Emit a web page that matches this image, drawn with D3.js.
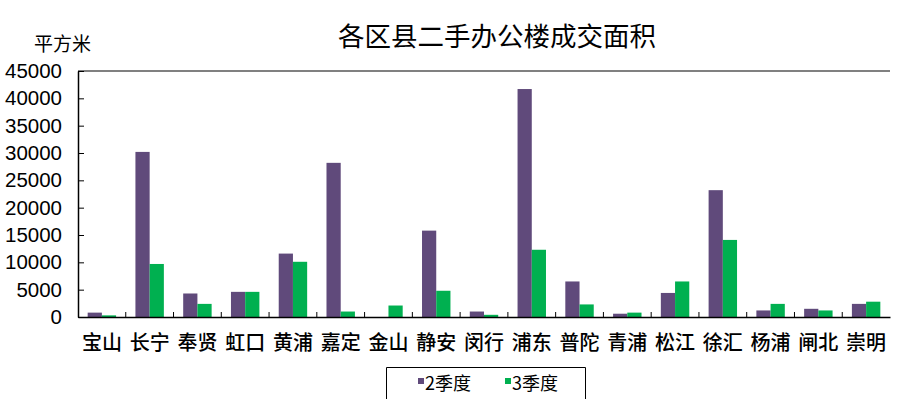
<!DOCTYPE html>
<html>
<head>
<meta charset="utf-8">
<script src="https://cdn.jsdelivr.net/npm/d3@7"></script>
<style>
  body { margin: 0; background: #fff; }
  text { font-family: "Liberation Sans", Arial, "Noto Sans CJK SC", sans-serif; }
  .cjk { font-family: "Noto Sans CJK SC", sans-serif; }
</style>
</head>
<body>
<div id="chart"></div>
<script>
// data
var districts = ["宝山","长宁","奉贤","虹口","黄浦","嘉定","金山","静安","闵行","浦东","普陀","青浦","松江","徐汇","杨浦","闸北","崇明"];
var seriesNames = ["2季度","3季度"];
var q2 = [800, 30200, 4300, 4600, 11600, 28200, 0, 15800, 1000, 41700, 6500, 600, 4400, 23200, 1200, 1500, 2400];
var q3 = [300, 9700, 2400, 4600, 10100, 1000, 2100, 4800, 400, 12300, 2300, 800, 6500, 14100, 2400, 1200, 2800];
var yTicks = [0, 5000, 10000, 15000, 20000, 25000, 30000, 35000, 40000, 45000];

var W = 899, H = 399;
var margin = {top: 71, right: 9, bottom: 82, left: 78},
    width = W - margin.left - margin.right,
    height = H - margin.top - margin.bottom;

var svg = d3.select("#chart")
  .append("svg")
    .attr("width", W)
    .attr("height", H);

var g = svg.append("g")
    .attr("transform", "translate(" + margin.left + "," + margin.top + ")");

var color = d3.scaleOrdinal().domain(seriesNames).range(["#604A7B", "#00B050"]);

var x = d3.scaleBand().domain(districts).range([0, width]).padding(0);
var xSub = d3.scaleBand().domain(seriesNames).range([0, x.bandwidth()])
    .paddingInner(0).paddingOuter(0.68);
var y = d3.scaleLinear().domain([0, 45000]).range([height, 0]);

// top border of plot area
g.append("line")
  .attr("x1", 0).attr("x2", width)
  .attr("y1", 0).attr("y2", 0)
  .attr("stroke", "#808080").attr("stroke-width", 2);

// bars
var rows = districts.map(function(d, i) { return {name: d, values: [q2[i], q3[i]]}; });
g.append("g")
  .selectAll("g")
  .data(rows)
  .enter().append("g")
    .attr("transform", function(d) { return "translate(" + x(d.name) + ",0)"; })
  .selectAll("rect")
  .data(function(d) { return seriesNames.map(function(k, j) { return {key: k, value: d.values[j]}; }); })
  .enter().append("rect")
    .attr("x", function(d) { return xSub(d.key); })
    .attr("y", function(d) { return y(d.value); })
    .attr("width", xSub.bandwidth())
    .attr("height", function(d) { return height - y(d.value); })
    .attr("fill", function(d) { return color(d.key); });

// y axis
var yAxis = g.append("g")
  .call(d3.axisLeft(y).tickValues(yTicks).tickSizeInner(-6).tickSizeOuter(0).tickPadding(16).tickFormat(d3.format("d")));
yAxis.select(".domain").attr("stroke", "#000").attr("stroke-width", 1.5);
yAxis.selectAll(".tick line").attr("stroke", "#000");
yAxis.selectAll("text")
  .style("font-family", "'Liberation Sans', Arial, sans-serif")
  .style("font-size", "20.5px")
  .attr("fill", "#000");

// x axis
var xAxis = g.append("g")
  .attr("transform", "translate(0," + height + ")")
  .call(d3.axisBottom(x).tickSize(0).tickPadding(19));
xAxis.select(".domain").attr("stroke", "#000").attr("stroke-width", 1.5);
xAxis.selectAll("text")
  .attr("class", "cjk")
  .style("font-size", "20px")
  .style("font-weight", "500")
  .attr("fill", "#000");

// category boundary ticks (inside)
g.append("g")
  .selectAll("line")
  .data(districts.slice(1))
  .enter().append("line")
    .attr("x1", function(d) { return x(d); })
    .attr("x2", function(d) { return x(d); })
    .attr("y1", height)
    .attr("y2", height - 5)
    .attr("stroke", "#000");

// title
svg.append("text")
  .attr("class", "cjk")
  .attr("x", 497).attr("y", 46)
  .style("text-anchor", "middle")
  .style("font-size", "26.5px")
  .attr("fill", "#000")
  .text("各区县二手办公楼成交面积");

// unit
svg.append("text")
  .attr("class", "cjk")
  .attr("x", 34).attr("y", 51)
  .style("font-size", "19px")
  .attr("fill", "#000")
  .text("平方米");

// legend
var lg = svg.append("g");
lg.append("path")
  .attr("d", "M386.5,400 V367.5 H585.5 V400")
  .attr("fill", "none")
  .attr("stroke", "#000");
var items = lg.selectAll("g.item")
  .data(seriesNames)
  .enter().append("g")
    .attr("transform", function(d, i) { return "translate(" + (418 + i * 87) + ",0)"; });
items.append("rect")
  .attr("x", 0).attr("y", 378)
  .attr("width", 6).attr("height", 6)
  .attr("fill", function(d) { return color(d); });
items.append("text")
  .attr("class", "cjk")
  .attr("x", 7).attr("y", 390)
  .style("font-size", "18px")
  .attr("fill", "#000")
  .text(function(d) { return d; });
</script>
</body>
</html>
